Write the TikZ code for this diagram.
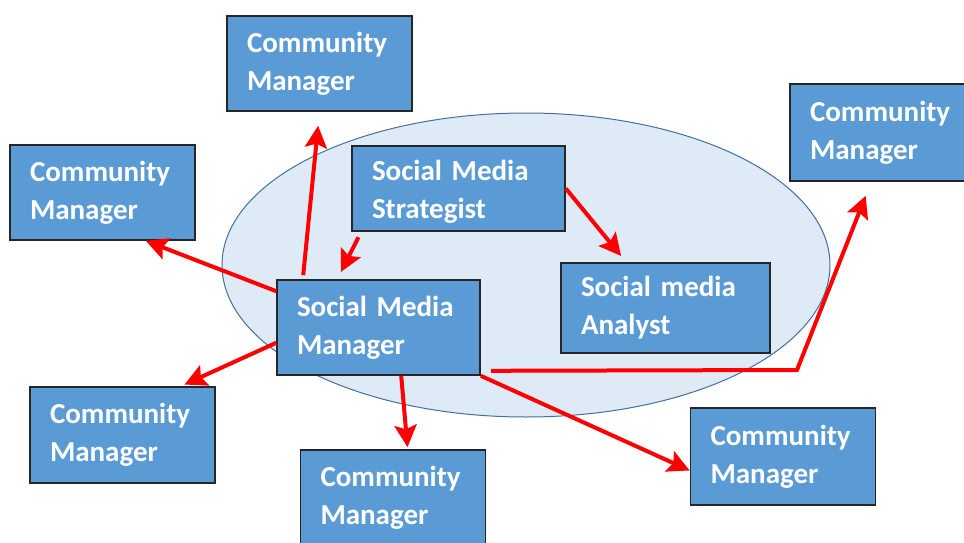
\documentclass[tikz,border=0pt]{standalone}
\usepackage{fontspec}
\setmainfont{Carlito}
\usetikzlibrary{arrows.meta}
\definecolor{boxblue}{RGB}{91,155,213}
\definecolor{ovalfill}{RGB}{222,234,246}
\definecolor{ovalline}{RGB}{65,113,156}
\begin{document}
\begin{tikzpicture}[x=1pt,y=-1pt,
	role/.style={draw=black!85,line width=1.6pt,fill=boxblue,text=white,
		font=\fontsize{29}{38}\selectfont\bfseries,align=left,
		inner xsep=20pt,inner ysep=0pt,text width=#1},
	role/.default=145pt,
	link/.style={draw=red,line width=4pt,-{Stealth[length=22pt,width=22pt,inset=4pt]}}]
	\useasboundingbox (0,0) rectangle (964,543);
	% team circle
	\draw[fill=ovalfill,draw=ovalline,line width=1pt] (526,265) ellipse[x radius=304,y radius=152];
	% roles
	\node[role,minimum height=95pt] (cmtop) at (319.5,63.5) {Community\\Manager};
	\node[role,minimum height=95pt] (cmleft) at (102.5,192.5) {Community\\Manager};
	\node[role,minimum height=97pt] (cmright) at (882.5,132.5) {Community\\Manager};
	\node[role,minimum height=96pt] (cmbl) at (122.5,435) {Community\\Manager};
	\node[role,minimum height=95pt] (cmbot) at (393,497.5) {Community\\Manager};
	\node[role,minimum height=97pt] (cmbr) at (783,456.5) {Community\\Manager};
	\node[role=173pt,minimum height=85pt,text depth=36pt] (sms) at (458.5,188.5) {Social Media\\Strategist};
	\node[role=163pt,minimum height=95pt] (smm) at (378.5,327.5) {Social Media\\Manager};
	\node[role=169pt,minimum height=90pt] (ana) at (665.5,308) {Social media\\Analyst};
	% reporting lines
	\draw[link,shorten >=14pt] ([xshift=27pt,yshift=4pt]smm.north west) -- (cmtop.south);
	\draw[link,shorten >=8pt,shorten <=6pt] ([xshift=10pt]sms.south west) -- ([xshift=61pt]smm.north west);
	\draw[link,shorten >=8pt] (sms.east) -- ([xshift=66pt]ana.north west);
	\draw[link] ([yshift=-12pt]smm.north west) -- ([xshift=-50pt]cmleft.south east);
	\draw[link,shorten >=4pt] ([yshift=33pt]smm.south west) -- ([xshift=-35pt]cmbl.north east);
	\draw[link,shorten >=2pt] ([xshift=125pt]smm.south west) -- ([xshift=108pt]cmbot.north west);
	\draw[link] (smm.south east) -- ([yshift=-14pt]cmbr.west);
	\coordinate (bend) at (797,370);
	\draw[link,shorten >=15pt] ([xshift=10pt,yshift=5pt]smm.south east) -- (bend) -- ([xshift=82pt]cmright.south west);
\end{tikzpicture}
\end{document}
